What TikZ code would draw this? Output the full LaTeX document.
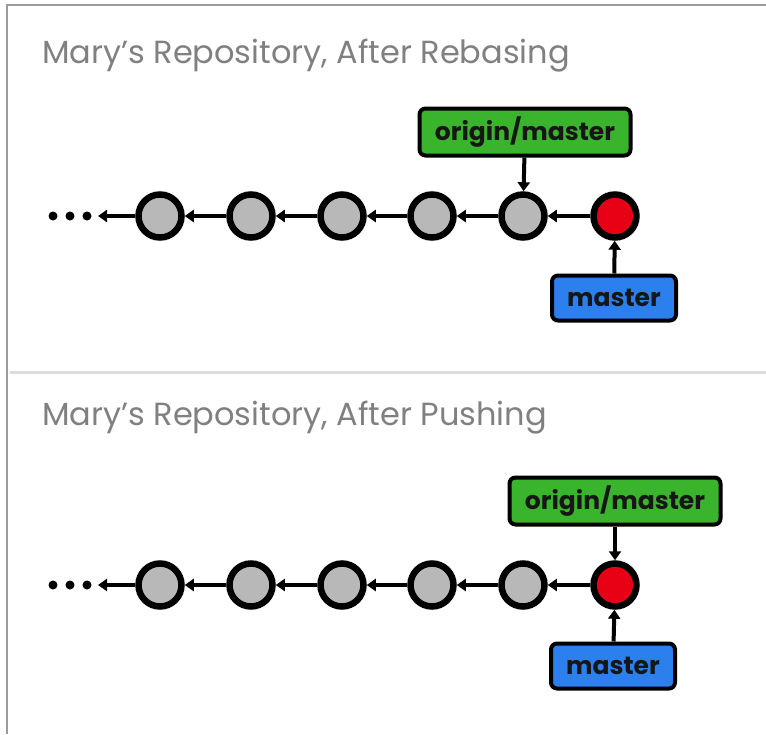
\documentclass[tikz,border=0pt]{standalone}
\usepackage{fontspec}
\setmainfont{Poppins}
\usetikzlibrary{arrows.meta}

\definecolor{framegray}{RGB}{155,155,155}
\definecolor{rulegray}{RGB}{220,220,220}
\definecolor{titlegray}{RGB}{128,128,128}
\definecolor{commitgray}{RGB}{184,184,184}
\definecolor{commitred}{RGB}{232,0,20}
\definecolor{origingreen}{RGB}{58,180,44}
\definecolor{masterblue}{RGB}{44,128,238}
\definecolor{labeldark}{RGB}{22,22,22}

\begin{document}
\begin{tikzpicture}[
  x=1pt, y=-1pt, >={Triangle[length=9pt, width=12pt]},
  commit/.style={circle, draw=black, line width=6.5pt, fill=commitgray,
                 minimum size=43pt, inner sep=0pt},
  headcommit/.style={commit, fill=commitred},
  dot/.style={circle, fill=black, minimum size=9pt, inner sep=0pt},
  refbox/.style={draw=black, line width=4pt, rounded corners=6pt, text=labeldark,
                 font=\bfseries\fontsize{25}{25}\selectfont, inner sep=0pt},
  originref/.style={refbox, fill=origingreen, minimum width=211pt, minimum height=47pt},
  masterref/.style={refbox, fill=masterblue, minimum width=124pt, minimum height=45pt},
  title/.style={anchor=base west, text=titlegray, inner sep=0pt,
                font=\fontsize{32}{32}\selectfont},
  arr/.style={->, line width=4pt},
]
\useasboundingbox (0,0) rectangle (766,734);

% frame and separator
\draw[framegray, line width=2pt] (7,734) -- (7,5) -- (766,5);
\draw[rulegray, line width=3pt] (10,372) -- (766,372);

% panel 1: after rebasing
\node[title] (t1) at (42,63) {Mary’s Repository, After Rebasing};

\node[dot] (a0) at (53,216) {};
\node[dot] (a00) at (70,216) {};
\node[dot] (a000) at (87,216) {};
\coordinate (aend) at (98,216);
\node[commit] (a1) at (160,216) {};
\node[commit] (a2) at (251,216) {};
\node[commit] (a3) at (342,216) {};
\node[commit] (a4) at (432,216) {};
\node[commit] (a5) at (523,216) {};
\node[headcommit] (a6) at (615,216) {};

\node[originref] (aorig) at (525,132) {origin/master};
\node[masterref] (amast) at (614,298) {master};

\draw[arr] (a1.west) -- (aend);
\draw[arr] (a2) -- (a1);
\draw[arr] (a3) -- (a2);
\draw[arr] (a4) -- (a3);
\draw[arr] (a5) -- (a4);
\draw[arr] (a6) -- (a5);
\draw[arr] (aorig) -- (a5);
\draw[arr] (amast) -- (a6);

% panel 2: after pushing
\node[title] (t2) at (42,425) {Mary’s Repository, After Pushing};

\node[dot] (b0) at (53,585) {};
\node[dot] (b00) at (70,585) {};
\node[dot] (b000) at (87,585) {};
\coordinate (bend) at (98,585);
\node[commit] (b1) at (160,585) {};
\node[commit] (b2) at (251,585) {};
\node[commit] (b3) at (342,585) {};
\node[commit] (b4) at (432,585) {};
\node[commit] (b5) at (523,585) {};
\node[headcommit] (b6) at (615,585) {};

\node[originref] (borig) at (615,501) {origin/master};
\node[masterref] (bmast) at (613,666) {master};

\draw[arr] (b1.west) -- (bend);
\draw[arr] (b2) -- (b1);
\draw[arr] (b3) -- (b2);
\draw[arr] (b4) -- (b3);
\draw[arr] (b5) -- (b4);
\draw[arr] (b6) -- (b5);
\draw[arr] (borig) -- (b6);
\draw[arr] (bmast) -- (b6);
\end{tikzpicture}
\end{document}
